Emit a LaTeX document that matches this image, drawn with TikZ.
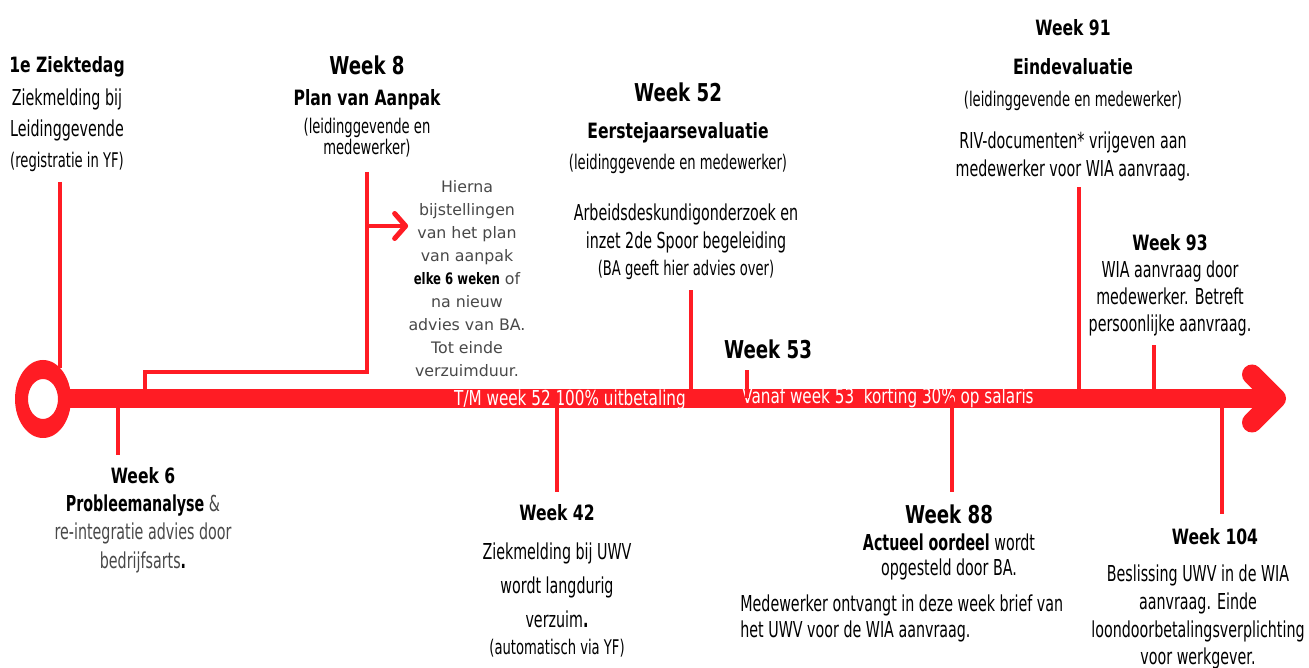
\documentclass[tikz,border=0pt]{standalone}
\usepackage{fontspec}
\setmainfont{DejaVu Sans}[FakeStretch=0.65]
\newfontfamily\headfont{DejaVu Sans}[FakeStretch=0.74]
\newfontfamily\widefont{DejaVu Sans}
\usepackage{xcolor}
\usepackage{tikz}
\usetikzlibrary{arrows.meta}
\definecolor{ttred}{RGB}{255,28,36}
\definecolor{ttgray}{RGB}{72,72,72}
\tikzset{
    tick/.style={draw=ttred, line width=0.08cm},
    bar/.style={draw=ttred, line width=0.38cm},
    barhead/.style={
        draw=ttred,
        line width=0.4cm,
        line cap=round,
        line join=round
    },
    txt/.style={inner sep=0pt, align=center, text=black},
    bigweek/.style={txt, font=\headfont\bfseries\fontsize{14}{17}\selectfont},
    head/.style={txt, font=\headfont\bfseries\fontsize{12}{14}\selectfont},
    body/.style={txt, font=\fontsize{12.5}{#1}\selectfont},
    body/.default=16.4,
    small/.style={txt, font=\fontsize{11.5}{#1}\selectfont},
    small/.default=12,
    bartext/.style={inner sep=0pt, text=white, font=\headfont\fontsize{11.7}{14}\selectfont},
}

\begin{document}
\begin{tikzpicture}[x=0.02cm, y=-0.02cm]
\useasboundingbox (0,0) rectangle (1309,668);

% time line
\coordinate (start) at (43,399);
\coordinate (barstart) at (66,398.5);
\coordinate (tip) at (1276,398.5);
\fill[ttred, even odd rule] (start) ellipse [x radius=28, y radius=39]
    (start) ellipse [x radius=15, y radius=20];
\draw[bar] (barstart) -- (tip);
\draw[barhead] (tip) ++(-24,-24) -- (tip) -- ++(-24,24);

\node[bartext] (pay100) at (570,400) {T/M week 52 100\% uitbetaling};
\node[bartext] (pay70) at (888,398) {Vanaf week 53\ \ korting 30\% op salaris};

% above the line
\node[head] (z1head) at (67,67) {1e Ziektedag};
\node[body=18.1] (z1body) at (67,115) {Ziekmelding bij\\Leidinggevende};
\node[small] (z1note) at (67,162) {(registratie in YF)};
\coordinate (z1top) at (60,182);
\draw[tick] (z1top) -- ++(0,186);

\node[bigweek] (w8head) at (367,65) {Week 8};
\node[head] (w8title) at (367,100) {Plan van Aanpak};
\node[small=12] (w8note) at (367,137.5) {(leidinggevende en\\medewerker)};
\coordinate (w8top) at (367,172);
\coordinate (w8step) at (145,372);
\coordinate (w8bar) at (145,398);
\draw[tick] (w8top) |- (w8step) -- (w8bar);
\node[txt, text=ttgray, font=\widefont\fontsize{9}{13.1}\selectfont] (hierna) at (467,278.5)
    {Hierna\\bijstellingen\\van het plan\\van aanpak\\{\headfont\bfseries\color{black}elke 6 weken} of\\na nieuw\\advies van BA.\\Tot einde\\verzuimduur.};
\coordinate (w8arrow) at (367,226);
\draw[tick, -{Straight Barb[length=2.2mm, width=5mm, line width=0.1cm, round]}]
    (w8arrow) -- (hierna.west |- w8arrow);

\node[bigweek] (w52head) at (678,92) {Week 52};
\node[head] (w52title) at (678,133) {Eerstejaarsevaluatie};
\node[small] (w52note) at (678,164) {(leidinggevende en medewerker)};
\node[body=16.4] (w52body) at (686,228.5) {Arbeidsdeskundigonderzoek en\\inzet 2de Spoor begeleiding};
\node[small] (w52sub) at (686,270) {(BA geeft hier advies over)};
\coordinate (w52bar) at (691,398);
\draw[tick] (w52bar) -- ++(0,-108);

\node[bigweek] (w53head) at (768,349) {Week 53};
\coordinate (w53bar) at (747,398);
\draw[tick] (w53bar) -- ++(0,-28);

\node[head] (w91head) at (1073,28) {Week 91};
\node[head] (w91title) at (1073,67) {Eindevaluatie};
\node[small] (w91note) at (1073,101) {(leidinggevende en medewerker)};
\node[body=16.4] (w91body) at (1073,156.5) {RIV-documenten* vrijgeven aan\\medewerker voor WIA aanvraag.};
\coordinate (w91bar) at (1079,398);
\draw[tick] (w91bar) -- ++(0,-211);

\node[head] (w93head) at (1170,243) {Week 93};
\node[body=15.6] (w93body) at (1170,298.5) {WIA aanvraag door\\medewerker. Betreft\\persoonlijke aanvraag.};
\coordinate (w93bar) at (1154,398);
\draw[tick] (w93bar) -- ++(0,-53);

% below the line
\coordinate (w6bar) at (118,398);
\draw[tick] (w6bar) -- ++(0,57);
\node[head] (w6head) at (143,476) {Week 6};
\node[body=16.2, text=ttgray] (w6body) at (143,533.5)
    {{\bfseries\color{black}Probleemanalyse} \&\\re-integratie advies door\\bedrijfsarts{\bfseries\color{black}.}};

\coordinate (w42bar) at (557,398);
\draw[tick] (w42bar) -- ++(0,94);
\node[head] (w42head) at (557,513) {Week 42};
\node[body=19.3] (w42body) at (557,585) {Ziekmelding bij UWV\\wordt langdurig\\verzuim{\bfseries.}};
\node[small] (w42note) at (557,648) {(automatisch via YF)};

\coordinate (w88bar) at (952,398);
\draw[tick] (w88bar) -- ++(0,94);
\node[bigweek] (w88head) at (949,514) {Week 88};
\node[body=14.2] (w88body) at (949,556.5) {{\bfseries Actueel oordeel} wordt\\opgesteld door BA.};
\node[body=15.3, align=left, anchor=west] (w88note) at (740,618.5)
    {Medewerker ontvangt in deze week brief van\\het UWV voor de WIA aanvraag.};

\coordinate (w104bar) at (1222,398);
\draw[tick] (w104bar) -- ++(0,116);
\node[head] (w104head) at (1215,537) {Week 104};
\node[body=15.9] (w104body) at (1198,617) {Beslissing UWV in de WIA\\aanvraag. Einde\\loondoorbetalingsverplichting\\voor werkgever.};
\end{tikzpicture}
\end{document}
